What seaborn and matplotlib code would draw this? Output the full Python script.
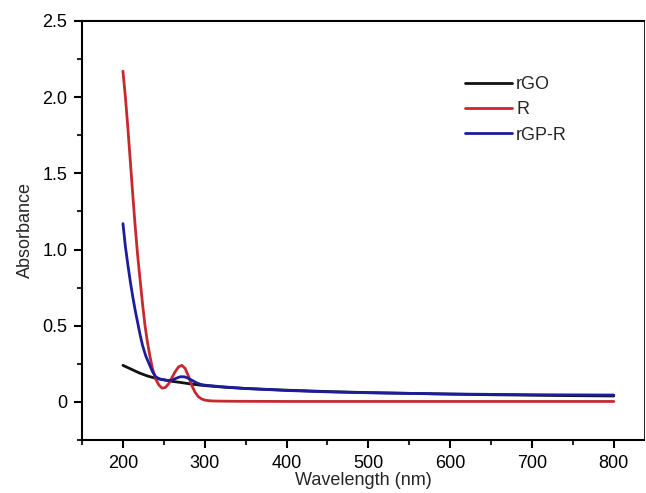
import matplotlib
matplotlib.use('Agg')
import matplotlib.pyplot as plt
from matplotlib.ticker import AutoMinorLocator, FixedLocator
import pandas as pd
import seaborn as sns

# absorbance spectra
wl_rgo = [200, 210, 220, 230, 240, 250, 260, 270, 280, 290, 300, 325, 350,
          400, 450, 500, 550, 600, 650, 700, 750, 800]
abs_rgo = [0.24, 0.215, 0.19, 0.17, 0.155, 0.145, 0.135, 0.128, 0.12, 0.113,
           0.107, 0.096, 0.088, 0.077, 0.068, 0.061, 0.056, 0.051, 0.047,
           0.044, 0.041, 0.039]

wl_r = [200, 203, 206, 209, 212, 215, 218, 221, 224, 227, 230, 233, 236, 240,
        244, 248, 252, 256, 260, 264, 268, 272, 276, 280, 284, 288, 292, 296,
        300, 305, 310, 320, 340, 400, 500, 600, 700, 800]
abs_r = [2.17, 2.0, 1.8, 1.58, 1.36, 1.15, 0.96, 0.80, 0.64, 0.50, 0.39, 0.30,
         0.22, 0.15, 0.11, 0.09, 0.095, 0.12, 0.16, 0.20, 0.23, 0.24, 0.22,
         0.17, 0.11, 0.065, 0.035, 0.02, 0.012, 0.008, 0.006, 0.005, 0.004,
         0.003, 0.003, 0.003, 0.003, 0.003]

wl_rgpr = [200, 203, 206, 209, 212, 215, 218, 221, 224, 228, 232, 236, 240,
           245, 250, 255, 260, 265, 270, 275, 280, 285, 290, 295, 300, 320,
           350, 400, 450, 500, 600, 700, 800]
abs_rgpr = [1.17, 1.02, 0.90, 0.79, 0.69, 0.60, 0.52, 0.44, 0.37, 0.30, 0.25,
            0.20, 0.165, 0.15, 0.145, 0.14, 0.142, 0.155, 0.165, 0.165, 0.155,
            0.14, 0.125, 0.115, 0.11, 0.10, 0.088, 0.075, 0.066, 0.06, 0.052,
            0.047, 0.045]

labels = ['rGO', 'R', 'rGP-R']
colors = ['#111111', '#c42a2e', '#1c1c9c']

frames = []
for lab, x, y in zip(labels, [wl_rgo, wl_r, wl_rgpr], [abs_rgo, abs_r, abs_rgpr]):
    frames.append(pd.DataFrame({'wl': x, 'absorb': y, 'sample': lab}))
df = pd.concat(frames, ignore_index=True)

sns.set_style('ticks')
plt.rcParams['font.family'] = ['Liberation Sans', 'DejaVu Sans']

fig = plt.figure(figsize=(6.46, 4.93), dpi=100)
ax = fig.add_axes([0.127, 0.1075, 0.87, 0.85])

sns.lineplot(data=df, x='wl', y='absorb', hue='sample', hue_order=labels,
             palette=dict(zip(labels, colors)), linewidth=2, ax=ax,
             estimator=None, sort=True)

ax.set_xlim(150, 837)
ax.set_ylim(-0.25, 2.5)
ax.xaxis.set_major_locator(FixedLocator([200, 300, 400, 500, 600, 700, 800]))
ax.xaxis.set_minor_locator(AutoMinorLocator(2))
ax.set_yticks([0, 0.5, 1.0, 1.5, 2.0, 2.5])
ax.set_yticklabels(['0', '0.5', '1.0', '1.5', '2.0', '2.5'])
ax.yaxis.set_minor_locator(AutoMinorLocator(2))
ax.tick_params(which='major', direction='out', length=6, width=1.5,
               labelsize=13, colors='black', pad=4.5)
ax.tick_params(which='minor', direction='out', length=3.5, width=1.5)
for s in ax.spines.values():
    s.set_linewidth(1.5)
    s.set_color('black')
ax.spines['right'].set_linewidth(0.6)

ax.set_xlabel('Wavelength (nm)', fontsize=13, labelpad=0)
ax.set_ylabel('Absorbance', fontsize=13, labelpad=6)

leg = ax.legend(loc='upper left', bbox_to_anchor=(0.681, 0.868), frameon=False,
                fontsize=13, handlelength=2.6, handletextpad=0.25,
                labelspacing=0.45, borderpad=0, borderaxespad=0)
for line in leg.get_lines():
    line.set_linewidth(2)

fig.savefig('out.png', dpi=100)
